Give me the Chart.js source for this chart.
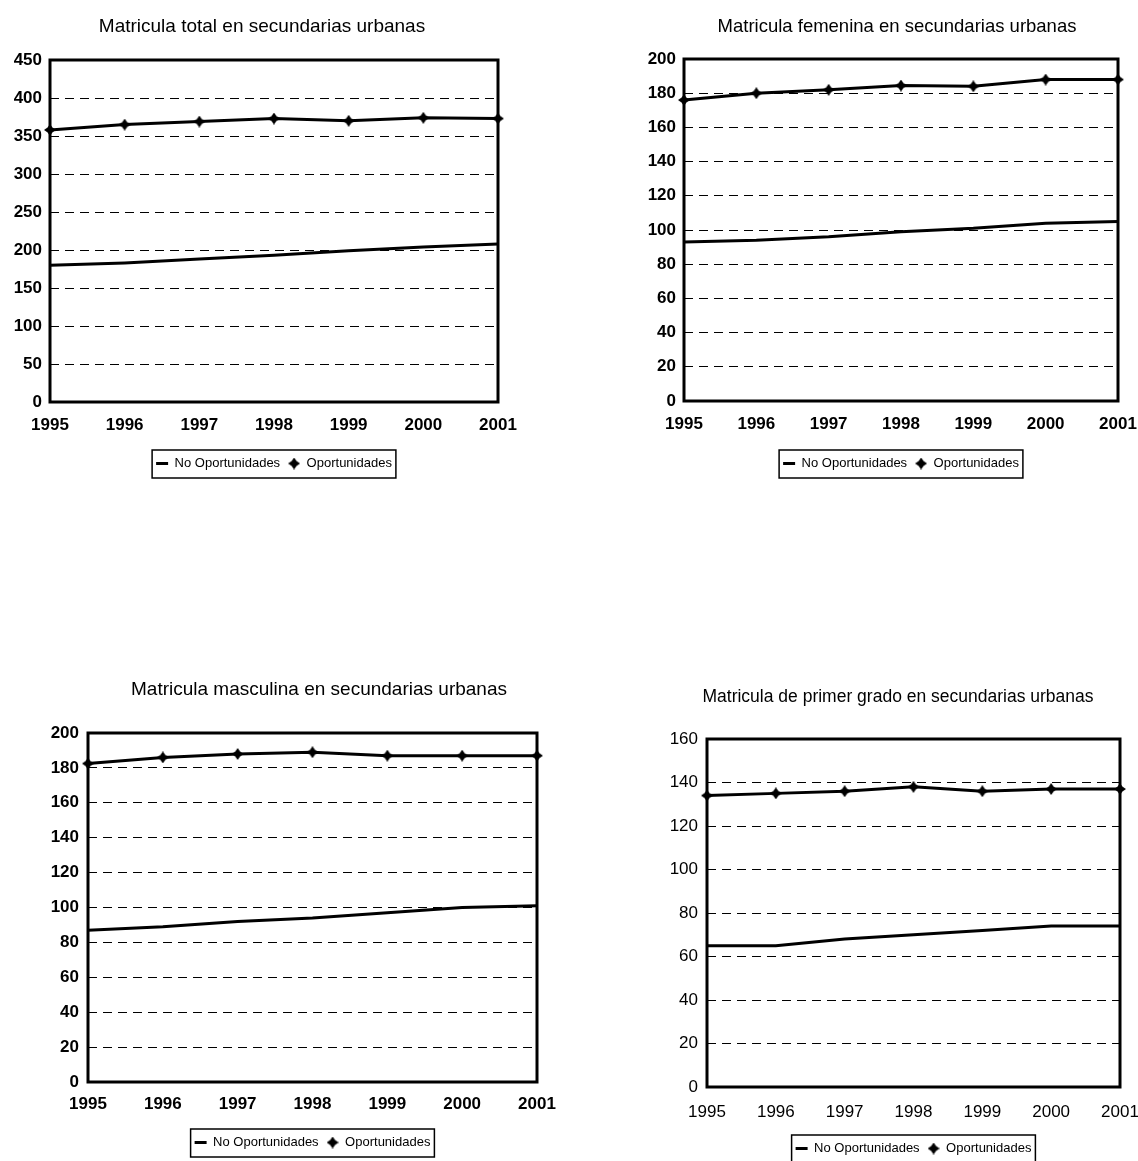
<!DOCTYPE html>
<html>
<head>
<meta charset="utf-8">
<script src="https://cdn.jsdelivr.net/npm/chart.js@4.4.1/dist/chart.umd.min.js"></script>
<style>
  body { margin: 0; background: #fff; width: 1138px; height: 1161px; overflow: hidden; position: relative; }
  .wrap { position: absolute; }
</style>
</head>
<body>
<div class="wrap" style="left:0px;top:0px;width:548px;height:480px"><canvas id="c1"></canvas></div>
<div class="wrap" style="left:600px;top:0px;width:594px;height:480px"><canvas id="c2"></canvas></div>
<div class="wrap" style="left:0px;top:640px;width:590px;height:519px"><canvas id="c3"></canvas></div>
<div class="wrap" style="left:600px;top:640px;width:596px;height:525px"><canvas id="c4"></canvas></div>
<script>
const years = ['1995', '1996', '1997', '1998', '1999', '2000', '2001'];
const seriesNames = ['No Oportunidades', 'Oportunidades'];

// matricula total
const totalNo = [180, 183, 188, 193, 199, 204, 208];
const totalOp = [358, 365, 369, 373, 370, 374, 373];
// matricula femenina
const femNo = [93, 94, 96, 99, 101, 104, 105];
const femOp = [176, 180, 182, 184.5, 184, 188, 188];
// matricula masculina
const mascNo = [87, 89, 92, 94, 97, 100, 101];
const mascOp = [182.5, 186, 188, 189, 187, 187, 187];
// primer grado
const primNo = [65, 65, 68, 70, 72, 74, 74];
const primOp = [134, 135, 136, 138, 136, 137, 137];

const sans = "'Liberation Sans', Arial, sans-serif";

// four pointed star used as the marker
function starMarker(size) {
    const c = document.createElement('canvas');
    c.width = size; c.height = size;
    const g = c.getContext('2d');
    const m = size / 2, r = 2.4;
    g.fillStyle = '#000';
    g.beginPath();
    g.moveTo(m, 0);
    g.lineTo(m + r, m - r);
    g.lineTo(size, m);
    g.lineTo(m + r, m + r);
    g.lineTo(m, size);
    g.lineTo(m - r, m + r);
    g.lineTo(0, m);
    g.lineTo(m - r, m - r);
    g.closePath();
    g.fill();
    return c;
}
const star = starMarker(12);

// frame round the plot and round the legend
const framePlugin = {
    id: 'frames',
    afterDraw(chart) {
        const ctx = chart.ctx;
        const a = chart.chartArea;
        ctx.save();
        ctx.strokeStyle = '#000';
        ctx.lineWidth = 3;
        ctx.strokeRect(a.left, a.top, a.right - a.left, a.bottom - a.top);
        const hb = chart.legend.legendHitBoxes;
        if (hb && hb.length) {
            let l = Infinity, r = -Infinity, t = Infinity, b = -Infinity;
            hb.forEach(h => {
                l = Math.min(l, h.left); r = Math.max(r, h.left + h.width);
                t = Math.min(t, h.top); b = Math.max(b, h.top + h.height);
            });
            ctx.lineWidth = 1.5;
            ctx.strokeRect(l - 4, t - 7, r - l + 8, b - t + 15);
        }
        ctx.restore();
    }
};

function makeChart(id, title, noData, opData, yMax, lay) {
    const weight = lay.bold ? 'bold' : 'normal';
    return new Chart(document.getElementById(id), {
        type: 'line',
        data: {
            labels: years,
            datasets: [{
                label: seriesNames[0],
                data: noData,
                borderColor: '#000',
                borderWidth: 3,
                pointRadius: 0,
                pointStyle: 'line',
                tension: 0,
                clip: false
            }, {
                label: seriesNames[1],
                data: opData,
                borderColor: '#000',
                backgroundColor: '#000',
                borderWidth: 3,
                pointStyle: star,
                pointRadius: 6,
                tension: 0,
                clip: false
            }]
        },
        options: {
            responsive: true,
            maintainAspectRatio: false,
            animation: false,
            layout: { padding: { left: lay.padLeft, right: lay.padRight, top: 0, bottom: 0 } },
            plugins: {
                title: {
                    display: true,
                    text: title,
                    fullSize: true,
                    color: '#000',
                    font: { family: sans, size: lay.titleSize, weight: 'normal', lineHeight: 1.2 },
                    padding: { top: lay.titleTop, bottom: lay.titleBottom }
                },
                legend: {
                    position: 'bottom',
                    fullSize: false,
                    labels: {
                        usePointStyle: true,
                        pointStyleWidth: 12,
                        boxHeight: 12,
                        padding: 8,
                        color: '#000',
                        font: { family: sans, size: 13 }
                    }
                },
                tooltip: { enabled: false }
            },
            scales: {
                x: {
                    offset: false,
                    grid: { display: false, drawTicks: false },
                    border: { display: false },
                    ticks: { color: '#000', padding: lay.xPad, maxRotation: 0, font: { family: sans, size: 17, weight: weight } },
                    afterFit: s => { s.height = lay.xHeight; }
                },
                y: {
                    min: 0,
                    max: yMax,
                    grid: { color: '#000', lineWidth: 1, drawTicks: false },
                    border: { display: false, dash: [9, 6] },
                    ticks: { stepSize: yMax === 450 ? 50 : 20, color: '#000', padding: lay.yPad, font: { family: sans, size: 17, weight: weight } },
                    afterFit: s => { s.width = lay.yWidth; }
                },
                // empty spacer on the right so the title sits where it does in the original
                spacer: {
                    type: 'linear',
                    position: 'right',
                    grid: { display: false, drawTicks: false },
                    border: { display: false },
                    ticks: { display: false },
                    afterFit: s => { s.width = lay.rightWidth; }
                }
            }
        },
        plugins: [framePlugin]
    });
}

makeChart('c1', 'Matricula total en secundarias urbanas', totalNo, totalOp, 450,
    { bold: true, titleSize: 19, padLeft: 0, padRight: 24, yWidth: 50, rightWidth: 26, xHeight: 47, titleTop: 15.6, titleBottom: 21.6, xPad: 13, yPad: 8 });
makeChart('c2', 'Matricula femenina en secundarias urbanas', femNo, femOp, 200,
    { bold: true, titleSize: 18.5, padLeft: 0, padRight: 0, yWidth: 84, rightWidth: 76, xHeight: 48, titleTop: 15.9, titleBottom: 20.9, xPad: 13, yPad: 8 });
makeChart('c3', 'Matricula masculina en secundarias urbanas', mascNo, mascOp, 200,
    { bold: true, titleSize: 19, padLeft: 48, padRight: 0, yWidth: 40, rightWidth: 53, xHeight: 46, titleTop: 38.6, titleBottom: 31.6, xPad: 12, yPad: 9 });
makeChart('c4', 'Matricula de primer grado en secundarias urbanas', primNo, primOp, 160,
    { bold: false, titleSize: 17.5, padLeft: 0, padRight: 0, yWidth: 107, rightWidth: 76, xHeight: 47, titleTop: 46.5, titleBottom: 31.5, xPad: 15, yPad: 9 });
</script>
</body>
</html>
